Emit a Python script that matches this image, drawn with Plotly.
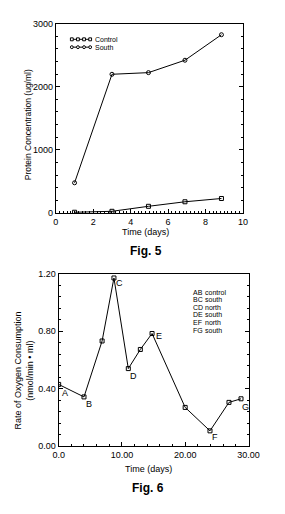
import plotly.graph_objects as go

W, H = 285, 514

# ---- Fig. 5 data ----
days5 = [1, 3, 4.95, 6.9, 8.85]
control5 = [10, 25, 104, 176, 228]
south5 = [477, 2197, 2223, 2420, 2824]
series5_names = ["Control", "South"]
series5_symbols = ["square", "circle"]
x5_ticks = [0, 2, 4, 6, 8, 10]
y5_ticks = [0, 1000, 2000, 3000]

# ---- Fig. 6 data ----
days6 = [0, 4.0, 6.86, 8.73, 11.0, 12.9, 14.75, 19.98, 23.9, 26.9, 28.8]
rate6 = [0.43, 0.343, 0.732, 1.17, 0.54, 0.673, 0.784, 0.27, 0.107, 0.305, 0.33]
point_labels = ["A", "B", "", "C", "D", "", "E", "", "F", "", "G"]
label_dx = [6, 5, 0, 6, 5, 0, 7, 0, 5, 0, 4]
label_dy = [-9, -7, 0, -5, -7, 0, -3, 0, -6, 0, -8]
seg_codes = ["AB", "BC", "CD", "DE", "EF", "FG"]
seg_names = ["control", "south", "north", "south", "north", "south"]
x6_ticks = [0, 10, 20, 30]
x6_ticktext = ["0.0", "10.00", "20.00", "30.00"]
y6_ticks = [0, 0.4, 0.8, 1.2]
y6_ticktext = ["0.00", "0.40", "0.80", "1.20"]

FONT = "Liberation Sans, Arial, Helvetica, sans-serif"
BLACK = "black"


def px(x):
    return x / W


def py(y):
    return 1 - y / H


fig = go.Figure()

for yvals, name, sym in zip([control5, south5], series5_names, series5_symbols):
    fig.add_trace(go.Scatter(
        x=days5, y=yvals, name=name, mode="lines+markers", showlegend=False,
        line=dict(color=BLACK, width=1),
        marker=dict(symbol=sym + "-open", size=4, color=BLACK, line=dict(width=1)),
        xaxis="x", yaxis="y"))

fig.add_trace(go.Scatter(
    x=days6, y=rate6, mode="lines+markers", showlegend=False,
    line=dict(color=BLACK, width=1),
    marker=dict(symbol="square-open", size=4, color=BLACK, line=dict(width=1)),
    xaxis="x2", yaxis="y2"))

axis_common = dict(showgrid=False, zeroline=False, showline=True, linecolor=BLACK,
                   linewidth=1, ticks="inside", ticklen=4, tickcolor=BLACK,
                   tickfont=dict(family=FONT, size=9, color=BLACK))

fig.update_layout(
    width=W, height=H, margin=dict(l=0, r=0, t=0, b=0),
    paper_bgcolor="white", plot_bgcolor="white",
    font=dict(family=FONT, color=BLACK),
    showlegend=False,
    xaxis=dict(domain=[px(53), px(252)], range=[0, 10], anchor="y",
               tickvals=x5_ticks, mirror=True,
               minor=dict(dtick=0.2, ticklen=2, ticks="inside", tickcolor=BLACK),
               **axis_common),
    yaxis=dict(domain=[py(212), py(19)], range=[0, 3000], anchor="x",
               tickvals=y5_ticks, mirror="ticks",
               minor=dict(dtick=200, ticklen=2, ticks="inside", tickcolor=BLACK),
               **axis_common),
    xaxis2=dict(domain=[px(56), px(258)], range=[0, 30], anchor="y2",
                tickvals=x6_ticks, ticktext=x6_ticktext, mirror=True,
                minor=dict(dtick=2, ticklen=2, ticks="inside", tickcolor=BLACK),
                **axis_common),
    yaxis2=dict(domain=[py(450), py(274)], range=[0, 1.2], anchor="x2",
                tickvals=y6_ticks, ticktext=y6_ticktext, mirror="ticks",
                minor=dict(dtick=0.08, ticklen=2, ticks="inside", tickcolor=BLACK),
                **axis_common),
)


def text_ann(text, x, y, size, angle=0, xanchor="center"):
    return dict(text=text, x=x, y=y, xref="paper", yref="paper", showarrow=False,
                xanchor=xanchor, yanchor="middle", textangle=angle,
                font=dict(family=FONT, size=size, color=BLACK))


ann = []
shapes = []
# Fig 5 titles
ann.append(text_ann("Time (days)", px(148), py(232), 9))
ann.append(text_ann("Protein Concentration (ug/ml)", px(23), py(122), 8.5, -90))
ann.append(text_ann("<b>Fig. 5</b>", px(149), py(251), 12))
# Fig 5 hand-made legend (line with four small symbols)
for i, (name, sym) in enumerate(zip(series5_names, series5_symbols)):
    yy = 35 + i * 8
    shapes.append(dict(type="line", xref="paper", yref="paper",
                       x0=px(69), x1=px(90), y0=py(yy), y1=py(yy),
                       line=dict(color=BLACK, width=1)))
    for k in range(4):
        cx = 70 + k * 6.5
        shapes.append(dict(type="rect" if sym == "square" else "circle",
                           xref="paper", yref="paper",
                           x0=px(cx - 1.5), x1=px(cx + 1.5), y0=py(yy + 1.5), y1=py(yy - 1.5),
                           line=dict(color=BLACK, width=1), fillcolor="white"))
    ann.append(text_ann(name, px(92), py(yy), 7, xanchor="left"))
# Fig 6 titles
ann.append(text_ann("Time (days)", px(152), py(473), 9))
ann.append(text_ann("Rate of Oxygen Consumption<br>(nmol/min \u2022 ml)", px(19), py(373), 9, -90))
ann.append(text_ann("<b>Fig. 6</b>", px(151), py(493), 12))
# point labels
for xv, yv, lab, dx, dy in zip(days6, rate6, point_labels, label_dx, label_dy):
    if lab:
        ann.append(dict(text=lab, x=xv, y=yv, xref="x2", yref="y2", showarrow=False,
                        xanchor="center", yanchor="middle", xshift=dx, yshift=dy,
                        font=dict(family=FONT, size=9, color=BLACK)))
# segment key
for i, (c, n) in enumerate(zip(seg_codes, seg_names)):
    yy = 292.7 + i * 7.8
    ann.append(text_ann(c, px(197), py(yy), 7, xanchor="left"))
    ann.append(text_ann(n, px(210), py(yy), 7, xanchor="left"))

fig.update_layout(annotations=ann, shapes=shapes)
fig.write_html("out.html")
